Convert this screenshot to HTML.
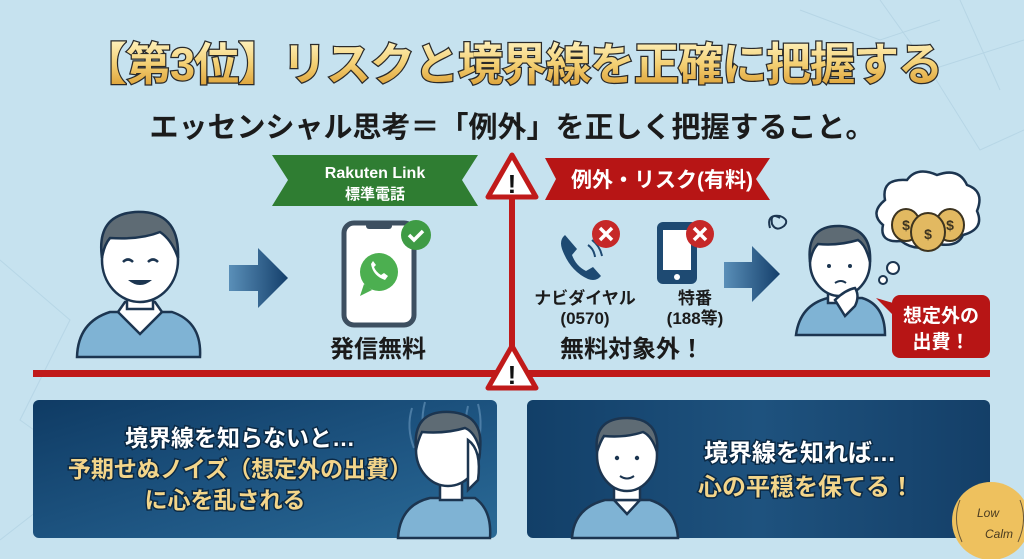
<!DOCTYPE html>
<html><head><meta charset="utf-8"><style>
body{margin:0;width:1024px;height:559px;overflow:hidden;background:#c6e2ef;font-family:"Liberation Sans","Noto Sans CJK JP",sans-serif;}
svg{position:absolute;left:0;top:0}
</style></head><body>
<svg width="1024" height="559" viewBox="0 0 1024 559" xmlns="http://www.w3.org/2000/svg">
<defs>
<linearGradient id="gold" x1="0" y1="0" x2="0" y2="1"><stop offset="0" stop-color="#fff3c0"/><stop offset="0.5" stop-color="#f3cf72"/><stop offset="1" stop-color="#d99a2e"/></linearGradient>
<linearGradient id="arr" x1="0" y1="0" x2="1" y2="0"><stop offset="0" stop-color="#5a8fb8"/><stop offset="1" stop-color="#143f6b"/></linearGradient>
<linearGradient id="pan" x1="0" y1="0" x2="1" y2="1"><stop offset="0" stop-color="#0f3b64"/><stop offset="0.6" stop-color="#1f5784"/><stop offset="1" stop-color="#2a6a96"/></linearGradient>
<linearGradient id="pan2" x1="0" y1="0" x2="1" y2="0"><stop offset="0" stop-color="#123f68"/><stop offset="0.5" stop-color="#1e527e"/><stop offset="1" stop-color="#143f68"/></linearGradient>
</defs>
<!-- background network lines -->
<g stroke="#b3d3e3" stroke-width="1" fill="none" opacity="0.8">
<path d="M0 260 L70 320 L20 420 L90 470 L0 540"/><path d="M880 0 L930 70 L1024 40 M930 70 L980 150 L1024 130 M960 0 L1000 90"/>
<path d="M800 10 L880 40 L940 20"/>
</g>
<!-- title -->
<text x="512" y="80" text-anchor="middle" font-size="45" font-weight="bold" fill="url(#gold)" stroke="#2a2a2a" stroke-width="2.5" paint-order="stroke" style="letter-spacing:-1px">【第3位】リスクと境界線を正確に把握する</text>
<text x="512" y="137" text-anchor="middle" font-size="29" font-weight="bold" fill="#1b1b1b">エッセンシャル思考＝「例外」を正しく把握すること。</text>

<!-- red lines -->
<rect x="509" y="170" width="6" height="202" fill="#c01a1a"/>
<rect x="33" y="370" width="957" height="7" fill="#c01a1a"/>
<g>
<polygon points="512,155 488,197 536,197" fill="#fff" stroke="#c01a1a" stroke-width="5" stroke-linejoin="round"/>
<text x="512" y="193" text-anchor="middle" font-size="26" font-weight="bold" fill="#111">!</text>
<polygon points="512,346 488,388 536,388" fill="#fff" stroke="#c01a1a" stroke-width="5" stroke-linejoin="round"/>
<text x="512" y="384" text-anchor="middle" font-size="26" font-weight="bold" fill="#111">!</text>
</g>

<!-- green ribbon -->
<polygon points="272,155 478,155 462,180 478,206 272,206 288,180" fill="#2f7d32"/>
<text x="375" y="178" text-anchor="middle" font-size="16" font-weight="bold" fill="#fff">Rakuten Link</text>
<text x="375" y="199" text-anchor="middle" font-size="15" font-weight="bold" fill="#fff">標準電話</text>
<!-- red ribbon -->
<polygon points="545,158 770,158 756,179 770,200 545,200 556,179" fill="#b71515"/>
<text x="662" y="187" text-anchor="middle" font-size="21" font-weight="bold" fill="#fff">例外・リスク(有料)</text>

<!-- left person -->
<g stroke="#1c3550" stroke-width="2.5">
<path d="M77 357 Q78 322 110 312 L172 312 Q202 322 200 357 Z" fill="#7fb3d4"/>
<path d="M118 312 L140 334 L162 312 L155 302 L125 302 Z" fill="#fff"/>
<rect x="127" y="285" width="26" height="24" fill="#fff"/>
<ellipse cx="140" cy="260" rx="38" ry="42" fill="#fff"/>
<path d="M102 258 Q96 215 135 212 Q180 210 178 258 Q172 240 160 232 Q140 240 110 238 Q104 245 102 258 Z" fill="#5e6b74"/>
</g>
<path d="M123 262 q5 -5 10 0 M148 262 q5 -5 10 0" stroke="#1c3550" stroke-width="2.5" fill="none"/>
<path d="M128 280 q12 10 24 0 Z" fill="#1c3550"/>

<!-- arrows -->
<polygon points="229,265 258,265 258,248 288,278 258,308 258,291 229,291" fill="url(#arr)"/>
<polygon points="724,262 752,262 752,246 780,274 752,302 752,288 724,288" fill="url(#arr)"/>

<!-- phone -->
<rect x="344" y="223" width="70" height="102" rx="10" fill="#fff" stroke="#3d4f60" stroke-width="5"/>
<rect x="366" y="223" width="26" height="6" rx="3" fill="#3d4f60"/>
<circle cx="379" cy="272" r="19" fill="#4caf50"/>
<polygon points="364,284 360,296 372,290" fill="#4caf50"/>
<path d="M371 264 q2 12 14 16 l3 -4 l-4 -3 l-3 2 q-5 -3 -7 -8 l2 -2 l-3 -4 Z" fill="#fff"/>
<circle cx="416" cy="235" r="15" fill="#3f9b45"/>
<path d="M409 235 l5 5 l9 -9" stroke="#fff" stroke-width="3.5" fill="none"/>
<text x="378" y="357" text-anchor="middle" font-size="24" font-weight="bold" fill="#1b1b1b">発信無料</text>

<!-- handset -->
<path d="M565 235 q-6 5 -3 14 q8 22 26 30 q8 3 13 -3 l-8 -9 l-7 4 q-10 -5 -14 -16 l5 -6 Z" fill="#1e4a72"/>
<path d="M588 245 q6 4 7 12 M592 240 q8 6 10 16" stroke="#1e4a72" stroke-width="2" fill="none"/>
<circle cx="606" cy="234" r="14" fill="#c62828"/>
<path d="M600 228 l12 12 M612 228 l-12 12" stroke="#fff" stroke-width="3.5"/>
<rect x="657" y="222" width="40" height="62" rx="6" fill="#1e4a72"/>
<rect x="663" y="230" width="28" height="40" fill="#fff"/>
<circle cx="677" cy="277" r="3" fill="#fff"/>
<circle cx="700" cy="234" r="14" fill="#c62828"/>
<path d="M694 228 l12 12 M706 228 l-12 12" stroke="#fff" stroke-width="3.5"/>
<g font-size="17" font-weight="bold" fill="#1b1b1b" text-anchor="middle">
<text x="585" y="304">ナビダイヤル</text><text x="585" y="324">(0570)</text>
<text x="695" y="304">特番</text><text x="695" y="324">(188等)</text>
</g>
<text x="632" y="357" text-anchor="middle" font-size="24" font-weight="bold" fill="#1b1b1b">無料対象外！</text>

<!-- worried person -->
<path d="M780 218 q-10 -6 -8 6 q4 8 12 2 q6 -6 -4 -10 q-14 -2 -10 12" stroke="#1c3550" stroke-width="2" fill="none"/>
<g stroke="#1c3550" stroke-width="2.5">
<path d="M796 335 Q800 305 828 298 L862 298 Q885 305 885 335 Z" fill="#7fb3d4"/>
<rect x="828" y="285" width="22" height="18" fill="#fff"/>
<ellipse cx="840" cy="262" rx="30" ry="34" fill="#fff"/>
<path d="M810 262 Q806 225 840 226 Q872 228 870 262 Q866 245 858 240 Q838 246 818 244 Q812 250 810 262 Z" fill="#5e6b74"/>
<path d="M835 300 q10 -10 20 -12 q5 8 0 18 l-10 10 Z" fill="#fff"/>
</g>
<circle cx="829" cy="266" r="2" fill="#1c3550"/><circle cx="850" cy="266" r="2" fill="#1c3550"/>
<path d="M835 283 q6 -4 11 0" stroke="#1c3550" stroke-width="2" fill="none"/>
<!-- cloud -->
<path d="M885 200 q-4 -22 22 -20 q10 -14 30 -5 q22 -8 30 10 q18 6 10 26 q8 18 -14 24 q-6 14 -30 8 q-16 10 -32 -2 q-22 2 -18 -16 q-14 -12 2 -25 Z" fill="#fff" stroke="#1c3550" stroke-width="2.5"/>
<circle cx="893" cy="268" r="6" fill="#fff" stroke="#1c3550" stroke-width="2"/>
<circle cx="883" cy="280" r="4" fill="#fff" stroke="#1c3550" stroke-width="2"/>
<g stroke="#3d3420" stroke-width="2" fill="#e2b961">
<ellipse cx="906" cy="225" rx="14" ry="16"/><ellipse cx="950" cy="225" rx="14" ry="16"/><ellipse cx="928" cy="232" rx="17" ry="19"/>
</g>
<g font-size="14" font-weight="bold" fill="#3d3420" text-anchor="middle"><text x="906" y="230">$</text><text x="950" y="230">$</text><text x="928" y="239">$</text></g>
<!-- red callout -->
<polygon points="876,298 900,305 896,318" fill="#b71515"/>
<rect x="892" y="295" width="98" height="63" rx="8" fill="#b71515"/>
<text x="941" y="322" text-anchor="middle" font-size="19" font-weight="bold" fill="#fff">想定外の</text>
<text x="941" y="348" text-anchor="middle" font-size="19" font-weight="bold" fill="#fff">出費！</text>

<!-- bottom panels -->
<rect x="33" y="400" width="464" height="138" rx="6" fill="url(#pan)"/>
<rect x="527" y="400" width="463" height="138" rx="6" fill="url(#pan2)"/>
<g stroke="#5f8fb5" stroke-width="2" fill="none" opacity="0.7">
<path d="M412 408 q-6 20 2 40 M425 402 q-6 22 2 50 M478 404 q6 22 -2 50 M468 406 q-6 25 2 50"/>
</g>
<!-- left bottom person -->
<g stroke="#1c3550" stroke-width="2.5">
<path d="M398 538 Q400 505 430 498 L475 498 Q492 510 490 538 Z" fill="#7fb3d4"/>
<rect x="440" y="480" width="22" height="20" fill="#fff"/>
<ellipse cx="448" cy="450" rx="32" ry="36" fill="#fff"/>
<path d="M416 450 Q412 410 450 412 Q484 414 480 450 Q475 432 465 428 Q445 434 422 432 Q418 440 416 450 Z" fill="#5e6b74"/>
<path d="M468 440 q14 10 10 40 l-10 10 Z" fill="#fff"/>
</g>
<text x="240" y="446" text-anchor="middle" font-size="23" font-weight="bold" fill="#fff" stroke="#0c2a45" stroke-width="3" paint-order="stroke">境界線を知らないと…</text>
<text x="240" y="477" text-anchor="middle" font-size="23" font-weight="bold" fill="#f3d58a" stroke="#0c2a45" stroke-width="3" paint-order="stroke">予期せぬノイズ（想定外の出費）</text>
<text x="225" y="508" text-anchor="middle" font-size="23" font-weight="bold" fill="#f3d58a" stroke="#0c2a45" stroke-width="3" paint-order="stroke">に心を乱される</text>
<!-- right bottom person -->
<g stroke="#1c3550" stroke-width="2.5">
<path d="M572 538 Q574 508 605 500 L650 500 Q676 508 678 538 Z" fill="#7fb3d4"/>
<path d="M614 500 l13 14 l13 -14 Z" fill="#fff"/>
<rect x="614" y="482" width="26" height="18" fill="#fff"/>
<ellipse cx="627" cy="455" rx="30" ry="36" fill="#fff"/>
<path d="M597 452 Q593 418 627 418 Q660 418 657 452 Q652 436 643 432 Q625 438 604 436 Q600 442 597 452 Z" fill="#5e6b74"/>
</g>
<circle cx="617" cy="458" r="2.2" fill="#1c3550"/><circle cx="637" cy="458" r="2.2" fill="#1c3550"/>
<path d="M620 476 q7 5 14 0" stroke="#1c3550" stroke-width="2" fill="none"/>
<text x="800" y="461" text-anchor="middle" font-size="24" font-weight="bold" fill="#fff" stroke="#0c2a45" stroke-width="3" paint-order="stroke">境界線を知れば…</text>
<text x="806" y="495" text-anchor="middle" font-size="24" font-weight="bold" fill="#f3d58a" stroke="#0c2a45" stroke-width="3" paint-order="stroke">心の平穏を保てる！</text>
<!-- logo -->
<circle cx="991" cy="521" r="39" fill="#eec15e"/>
<g stroke="#6b5a3a" stroke-width="1" fill="none"><path d="M960 500 q-8 20 2 42 M1020 500 q8 20 -2 42"/></g>
<text x="977" y="517" font-size="12" fill="#4a3b20" font-style="italic">Low</text>
<text x="985" y="538" font-size="12" fill="#4a3b20" font-style="italic">Calm</text>
</svg>
</body></html>
